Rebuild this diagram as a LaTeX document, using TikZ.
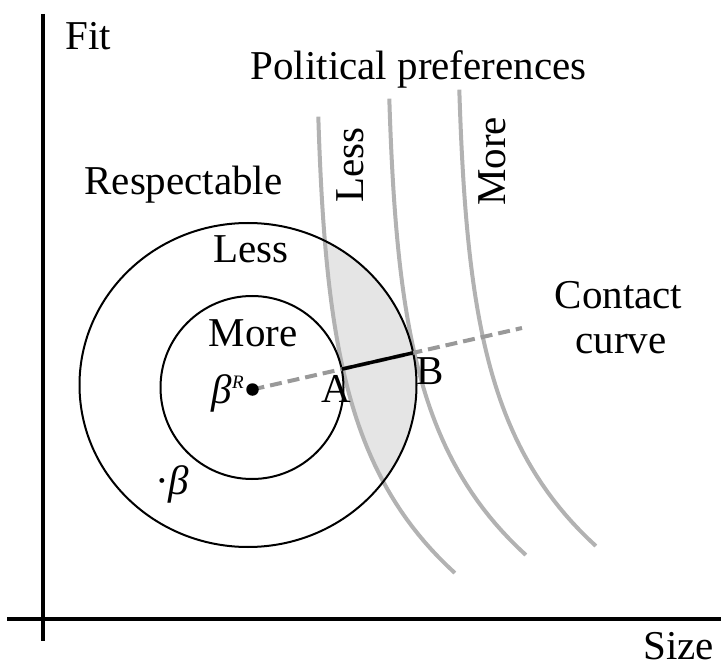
\documentclass[tikz,border=0pt]{standalone}
\usepackage{fontspec}
\setmainfont{Liberation Serif}
\usetikzlibrary{intersections}
\begin{document}
\begin{tikzpicture}[x=1pt,y=-1pt,
  lbl/.style={font=\fontsize{41}{45}\selectfont, inner sep=0pt, anchor=base},
  pref/.style={draw=black!30, line width=4pt},
  ring/.style={draw=black, line width=2pt},
  axisline/.style={draw=black, line width=3.5pt},
  contact/.style={draw=black!40, line width=4pt, dash pattern=on 12pt off 6pt},
  segAB/.style={draw=black, line width=3.5pt},
  region/.style={fill=black!10}]
\useasboundingbox (0,0) rectangle (721,666);

% shaded region between the "Less" preference curve and the outer ring
\begin{scope}
  \clip (248,385) ellipse [x radius=168.5pt, y radius=162pt];
  \path[region] plot[domain=116.7:573, variable=\t, samples=60] ({314.3+4.015*exp(0.0078*(\t-117))}, \t)
     -- (720,573) -- (720,116.7) -- cycle;
\end{scope}

% political preference curves
\foreach \dx/\dy in {0/0, 71/-18, 141/-27}
  \draw[pref, shift={(\dx,\dy)}] plot[domain=116.7:573, variable=\t, samples=60] ({314.3+4.015*exp(0.0078*(\t-117))}, \t);

% rings
\draw[ring, name path=inner] (252,387.5) circle (91.5pt);
\draw[ring, name path=outer] (248,385) ellipse [x radius=168.5pt, y radius=162pt];

% axes
\coordinate (yt) at (43,14);
\coordinate (yb) at (43,641);
\coordinate (xl) at (7,619);
\coordinate (xr) at (721,619);
\draw[axisline] (yt) -- (yb);
\draw[axisline] (xl) -- (xr);

% contact curve
\coordinate (bR) at (252.5,389.5);
\coordinate (cend) at (522,328);
\path[name path=cline] (bR) -- (cend);
\path[name intersections={of=inner and cline, by=A}];
\path[name intersections={of=outer and cline, by=B}];
\draw[contact] (bR) -- (cend);
\draw[segAB] (A) -- (B);
\node[circle, fill=black, inner sep=0pt, minimum size=12.5pt] (bRdot) at (bR) {};

% labels
\node[lbl] (fit) at (88.5,50) {Fit};
\node[lbl, anchor=base east] (size) at (714,659) {Size};
\node[lbl] (pol) at (418.5,80) {Political preferences};
\node[lbl] (resp) at (183.5,195) {Respectable};
\node[lbl] (lessout) at (251,262) {Less};
\node[lbl] (morein) at (253,346) {More};
\node[lbl, rotate=90] (lessrot) at (363,165) {Less};
\node[lbl, rotate=90] (morerot) at (505,161.5) {More};
\node[lbl] (contact1) at (618.5,308) {Contact};
\node[lbl] (contact2) at (621,353) {curve};
\node[lbl] (Alab) at (336,402) {A};
\node[lbl] (Blab) at (430.5,384) {B};
\node[lbl, anchor=base east] (bRlab) at (244,403) {\textit{β}\raisebox{15pt}{\fontsize{19}{19}\selectfont\textit{R}}};
\node[lbl, anchor=base west] (blab) at (155,494) {·\textit{β}};
\end{tikzpicture}
\end{document}
